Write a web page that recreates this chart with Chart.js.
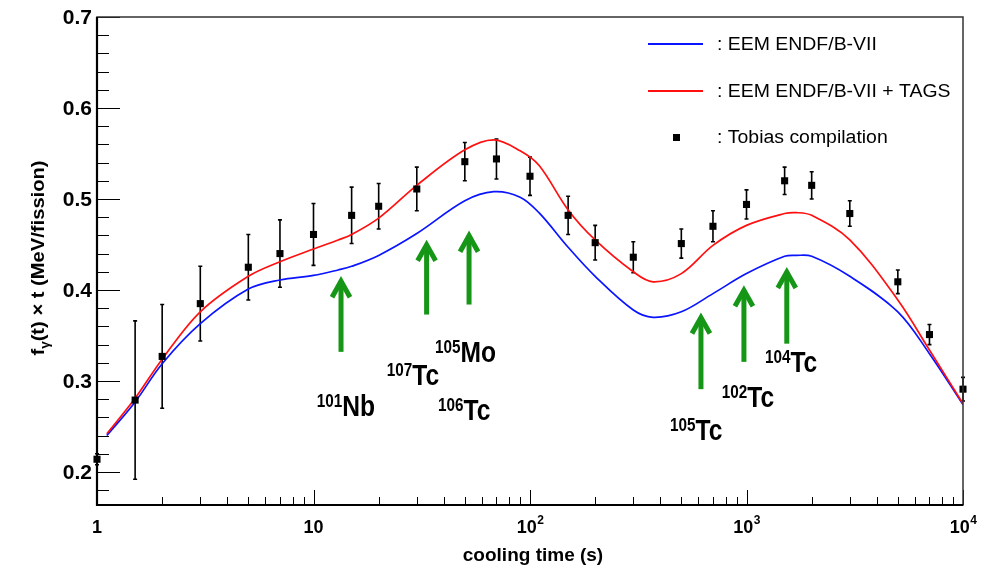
<!DOCTYPE html>
<html>
<head>
<meta charset="utf-8">
<script src="https://cdn.jsdelivr.net/npm/chart.js@4/dist/chart.umd.min.js"></script>
<style>
  html, body { margin: 0; padding: 0; background: #fff; }
  #wrap { width: 990px; height: 565px; }
</style>
</head>
<body>
<div id="wrap"><canvas id="gammaChart" width="990" height="565"></canvas></div>
<script>
// cooling time grid for the two EEM curves (s)
const timeGrid = [1.11, 1.5, 2, 3, 5, 7, 10, 13, 15, 20, 30, 50, 68, 90, 110, 150, 200, 300, 370, 500, 700, 1000, 1500, 1700, 2000, 3000, 5000, 7000, 10000];
const eemValues = [0.240, 0.277, 0.319, 0.363, 0.401, 0.411, 0.416, 0.422, 0.426, 0.438, 0.462, 0.498, 0.508, 0.502, 0.485, 0.447, 0.415, 0.378, 0.370, 0.376, 0.396, 0.418, 0.437, 0.438, 0.437, 0.415, 0.376, 0.330, 0.274];
const eemTagsValues = [0.242, 0.281, 0.324, 0.376, 0.415, 0.431, 0.445, 0.455, 0.461, 0.479, 0.515, 0.554, 0.565, 0.553, 0.537, 0.488, 0.455, 0.420, 0.409, 0.418, 0.449, 0.471, 0.484, 0.485, 0.482, 0.455, 0.389, 0.334, 0.275];

// Tobias compilation
const tobiasTimes = [1, 1.5, 2, 3, 5, 7, 10, 15, 20, 30, 50, 70, 100, 150, 200, 300, 500, 700, 1000, 1500, 2000, 3000, 5000, 7000, 10000];
const tobiasValues = [0.214, 0.279, 0.327, 0.385, 0.425, 0.440, 0.461, 0.482, 0.492, 0.511, 0.541, 0.544, 0.525, 0.482, 0.452, 0.436, 0.451, 0.470, 0.494, 0.520, 0.515, 0.484, 0.409, 0.351, 0.291];
const tobiasErrors = [0.006, 0.087, 0.057, 0.041, 0.036, 0.037, 0.034, 0.031, 0.025, 0.024, 0.021, 0.022, 0.021, 0.021, 0.019, 0.017, 0.016, 0.017, 0.016, 0.015, 0.015, 0.014, 0.013, 0.011, 0.013];

// axis ticks
const yTickValues = [0.2, 0.3, 0.4, 0.5, 0.6, 0.7];
const yTickLabels = ['0.2', '0.3', '0.4', '0.5', '0.6', '0.7'];
const xDecades = [1, 10, 100, 1000, 10000];
const xTickLabels = [['1', ''], ['10', ''], ['10', '2'], ['10', '3'], ['10', '4']];

// nuclide arrows: time, tip value, tail value
const arrowTimes = [13.4, 33.3, 52.3, 616, 973, 1535];
const arrowTips = [0.413, 0.453, 0.463, 0.373, 0.403, 0.423];
const arrowTails = [0.332, 0.373, 0.384, 0.291, 0.321, 0.341];
// label anchors (left edge time, baseline value); 106Tc shares the 105Mo arrow
const labelNames = [['101', 'Nb'], ['107', 'Tc'], ['105', 'Mo'], ['106', 'Tc'], ['105', 'Tc'], ['102', 'Tc'], ['104', 'Tc']];
const labelTimes = [10.35, 21.8, 36.4, 37.6, 443, 768, 1216];
const labelValues = [0.261, 0.296, 0.321, 0.257, 0.235, 0.271, 0.310];

const FONT = "'Liberation Sans', Arial, Helvetica, sans-serif";
const GREEN = 'rgb(22,150,22)';

function textW(ctx, txt, font, sx) {
  ctx.font = font;
  return ctx.measureText(txt).width * sx;
}
function drawScaled(ctx, txt, x, y, font, sx, align) {
  ctx.save();
  ctx.font = font;
  ctx.textAlign = align || 'left';
  ctx.translate(x, y);
  ctx.scale(sx, 1);
  ctx.fillText(txt, 0, 0);
  ctx.restore();
}

const errorBars = {
  id: 'errorBars',
  beforeDatasetsDraw(chart) {
    const { ctx, scales: { x, y } } = chart;
    ctx.save();
    ctx.strokeStyle = '#000';
    ctx.lineWidth = 1.6;
    tobiasTimes.forEach((t, i) => {
      const px = x.getPixelForValue(t);
      const top = y.getPixelForValue(tobiasValues[i] + tobiasErrors[i]);
      const bot = y.getPixelForValue(tobiasValues[i] - tobiasErrors[i]);
      ctx.beginPath();
      ctx.moveTo(px, top); ctx.lineTo(px, bot);
      ctx.moveTo(px - 2, top); ctx.lineTo(px + 2, top);
      ctx.moveTo(px - 2, bot); ctx.lineTo(px + 2, bot);
      ctx.stroke();
    });
    ctx.restore();
  }
};

const frameAndText = {
  id: 'frameAndText',
  afterDatasetsDraw(chart) {
    const { ctx, chartArea: a, scales: { x, y } } = chart;
    ctx.save();
    ctx.fillStyle = '#000';
    ctx.strokeStyle = '#000';

    // ticks on the left axis (inside)
    ctx.lineWidth = 1;
    for (let k = 0; k <= 30; k++) {
      const v = 0.16 + k * 0.02;
      if (v > y.max + 1e-9 || v < y.min) continue;
      const py = Math.round(y.getPixelForValue(v)) + 0.5;
      const major = Math.abs(v * 10 - Math.round(v * 10)) < 1e-6;
      ctx.beginPath();
      ctx.moveTo(a.left, py);
      ctx.lineTo(a.left + (major ? 23 : 12), py);
      ctx.stroke();
    }
    // ticks on the bottom axis (inside)
    xDecades.forEach((d) => {
      for (let m = 1; m <= 9; m++) {
        const t = d * m;
        if (t > x.max) break;
        const px = Math.round(x.getPixelForValue(t)) + 0.5;
        ctx.beginPath();
        ctx.moveTo(px, a.bottom);
        ctx.lineTo(px, a.bottom - (m === 1 ? 15 : 8));
        ctx.stroke();
      }
    });

    // frame
    ctx.strokeStyle = '#333';
    ctx.lineWidth = 1.5;
    ctx.strokeRect(a.left, a.top, a.right - a.left, a.bottom - a.top);
    ctx.strokeStyle = '#000';
    ctx.lineWidth = 2.2;
    ctx.beginPath();
    ctx.moveTo(a.left, a.top); ctx.lineTo(a.left, a.bottom); ctx.lineTo(a.right, a.bottom);
    ctx.stroke();

    // y tick labels
    ctx.textBaseline = 'middle';
    yTickValues.forEach((v, i) => {
      drawScaled(ctx, yTickLabels[i], a.left - 5, y.getPixelForValue(v) + 1, 'bold 21px ' + FONT, 1, 'right');
    });

    // x tick labels with exponents
    ctx.textBaseline = 'alphabetic';
    xDecades.forEach((d, i) => {
      const [base, exp] = xTickLabels[i];
      const fb = 'bold 18px ' + FONT, fe = 'bold 12px ' + FONT;
      const wb = textW(ctx, base, fb, 1), we = exp ? textW(ctx, exp, fe, 1) : 0;
      const px = x.getPixelForValue(d);
      const x0 = px - (wb + we) / 2;
      drawScaled(ctx, base, x0, a.bottom + 28, fb, 1);
      if (exp) drawScaled(ctx, exp, x0 + wb + 0.5, a.bottom + 19, fe, 1);
    });

    // axis titles
    drawScaled(ctx, 'cooling time (s)', 533, 561, 'bold 19px ' + FONT, 1, 'center');

    ctx.save();
    ctx.translate(44, 258);
    ctx.rotate(-Math.PI / 2);
    const tf = 'bold 18px ' + FONT, sf = 'bold 12px ' + FONT, tsx = 1.12;
    const parts = [['f', tf, 0], ['\u03b3', sf, 5], ['(t) \u00d7 t (MeV/fission)', tf, 0]];
    const total = parts.reduce((s, p) => s + textW(ctx, p[0], p[1], tsx), 0);
    let cx = -total / 2;
    parts.forEach(p => {
      drawScaled(ctx, p[0], cx, p[2], p[1], tsx, 'left');
      cx += textW(ctx, p[0], p[1], tsx);
    });
    ctx.restore();

    // legend
    const lf = '18px ' + FONT;
    ctx.textBaseline = 'middle';
    ctx.lineWidth = 2;
    ctx.strokeStyle = '#0a14ff';
    ctx.beginPath(); ctx.moveTo(648, 44); ctx.lineTo(703, 44); ctx.stroke();
    ctx.strokeStyle = '#ff1010';
    ctx.beginPath(); ctx.moveTo(648, 91); ctx.lineTo(703, 91); ctx.stroke();
    ctx.fillStyle = '#000';
    ctx.fillRect(673, 134, 7, 7);
    drawScaled(ctx, ': EEM ENDF/B-VII', 717, 45, lf, 1.08);
    drawScaled(ctx, ': EEM ENDF/B-VII + TAGS', 717, 92, lf, 1.08);
    drawScaled(ctx, ': Tobias compilation', 717, 138, lf, 1.08);

    // nuclide arrows
    ctx.strokeStyle = GREEN;
    ctx.lineWidth = 5;
    ctx.lineJoin = 'miter';
    arrowTimes.forEach((t, i) => {
      const px = x.getPixelForValue(t);
      const tip = y.getPixelForValue(arrowTips[i]);
      const tail = y.getPixelForValue(arrowTails[i]);
      ctx.beginPath();
      ctx.moveTo(px, tail); ctx.lineTo(px, tip + 3);
      ctx.stroke();
      ctx.beginPath();
      ctx.moveTo(px - 9, tip + 19); ctx.lineTo(px, tip + 3); ctx.lineTo(px + 9, tip + 19);
      ctx.stroke();
    });

    // nuclide labels
    ctx.fillStyle = '#000';
    ctx.textBaseline = 'alphabetic';
    labelTimes.forEach((t, i) => {
      const [mass, sym] = labelNames[i];
      const px = x.getPixelForValue(t);
      const py = y.getPixelForValue(labelValues[i]);
      const mf = 'bold 18px ' + FONT, nf = 'bold 30px ' + FONT;
      drawScaled(ctx, mass, px, py - 9, mf, 0.85);
      drawScaled(ctx, sym, px + textW(ctx, mass, mf, 0.85), py, nf, 0.82);
    });

    ctx.restore();
  }
};

const ctx = document.getElementById('gammaChart').getContext('2d');
new Chart(ctx, {
  type: 'scatter',
  data: {
    datasets: [
      {
        label: 'Tobias compilation',
        data: tobiasTimes.map((t, i) => ({ x: t, y: tobiasValues[i] })),
        pointStyle: 'rect',
        pointRadius: 5,
        backgroundColor: '#000',
        borderColor: '#000',
        borderWidth: 0,
        clip: false
      },
      {
        label: 'EEM ENDF/B-VII + TAGS',
        data: timeGrid.map((t, i) => ({ x: t, y: eemTagsValues[i] })),
        showLine: true,
        pointRadius: 0,
        borderColor: '#ff1010',
        borderWidth: 1.7,
        tension: 0.35
      },
      {
        label: 'EEM ENDF/B-VII',
        data: timeGrid.map((t, i) => ({ x: t, y: eemValues[i] })),
        showLine: true,
        pointRadius: 0,
        borderColor: '#0a14ff',
        borderWidth: 1.7,
        tension: 0.35
      }
    ]
  },
  options: {
    responsive: false,
    animation: false,
    layout: { padding: { left: 97, right: 27, top: 17, bottom: 60 } },
    plugins: { legend: { display: false }, tooltip: { enabled: false } },
    scales: {
      x: { type: 'logarithmic', min: 1, max: 10000, display: false },
      y: { type: 'linear', min: 0.1637, max: 0.7, display: false }
    }
  },
  plugins: [errorBars, frameAndText]
});
</script>
</body>
</html>
